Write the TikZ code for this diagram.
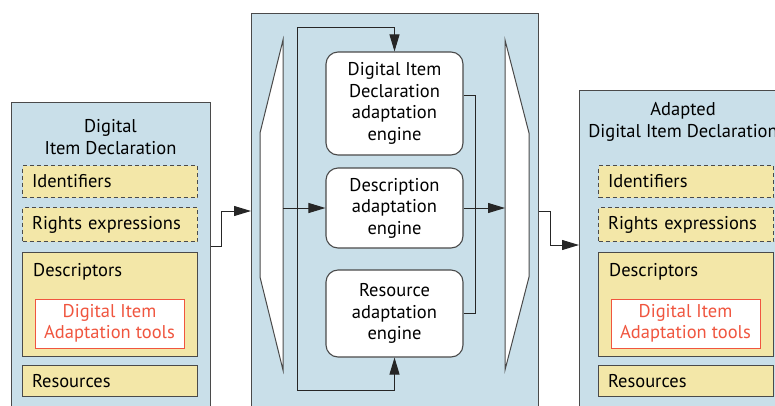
\documentclass[tikz,border=0pt]{standalone}
\usepackage{fontspec}
\setmainfont{PT Sans}
\usetikzlibrary{arrows.meta}

\definecolor{panelblue}{HTML}{C9DFE9}
\definecolor{partyellow}{HTML}{F3E7A8}
\definecolor{toolred}{HTML}{F0553F}
\definecolor{edgegray}{HTML}{4A4A4A}

\begin{document}
\begin{tikzpicture}[x=1pt, y=-1pt, font=\fontsize{18.5}{21.5}\selectfont,
        panel/.style={draw=edgegray, fill=panelblue, line width=1.1pt, inner sep=0pt, anchor=north west},
        part/.style={draw=edgegray, fill=partyellow, line width=1pt, minimum width=175pt, minimum height=32pt,
                     text width=156pt, inner xsep=9.5pt, inner ysep=0pt, align=left, anchor=north west},
        optional/.style={part, dash pattern=on 4pt off 3pt},
        tools/.style={draw=toolred, fill=white, text=toolred, line width=1pt, minimum width=149pt,
                      minimum height=49pt, inner sep=0pt, align=center},
        engine/.style={draw=edgegray, fill=white, line width=1.1pt, rounded corners=12pt,
                       minimum width=137pt, inner sep=0pt, align=center},
        splitter/.style={draw=edgegray, fill=white, line width=1pt},
        flow/.style={draw=black!85, line width=1pt},
        arr/.style={flow, -{Triangle[length=17pt,width=10pt]}}]

        \useasboundingbox (0,0) rectangle (775,405);
        \clip (0,0) rectangle (775,405);

        % three panels, the outer two run off the page
        \node[panel, minimum width=199pt, minimum height=330pt] (didpanel) at (11,102) {};
        \node[panel, minimum width=287pt, minimum height=420pt] (enginepanel) at (251,13) {};
        \node[panel, minimum width=199pt, minimum height=340pt] (adaptedpanel) at (579,90) {};

        \node[align=center] (didtitle) at (110.5,137) {Digital\\Item Declaration};
        \node[align=center] (adaptedtitle) at (683,122) {Adapted\\Digital Item Declaration};

        % parts of the declaration, same on both sides
        \foreach \dx/\p in {0/l, 576/r} {
            \node[optional] (\p ids) at (22+\dx,165) {Identifiers};
            \node[optional, minimum height=34pt] (\p rights) at (22+\dx,207) {Rights expressions};
            \node[part, minimum height=104pt] (\p desc) at (22+\dx,252) {};
            \node[anchor=base west, inner sep=0pt] (\p desclabel) at (33+\dx,276) {Descriptors};
            \node[tools] (\p tools) at (109.5+\dx,323.5) {Digital Item\\Adaptation tools};
            \node[part, minimum height=31pt] (\p res) at (22+\dx,365) {Resources};
        }

        % split and merge
        \draw[splitter] (283,40) -- (260,133) -- (260,277) -- (283,370) -- cycle;
        \draw[splitter] (505,40) -- (529,133) -- (529,277) -- (505,370) -- cycle;
        \coordinate (splitout) at (283,208);
        \coordinate (mergein) at (505,208);

        \node[engine, minimum height=103pt] (didengine) at (394.5,103.5) {Digital Item\\Declaration\\adaptation\\engine};
        \node[engine, minimum height=80pt] (descengine) at (394.5,208) {Description\\adaptation\\engine};
        \node[engine, minimum height=87pt] (resengine) at (394.5,313.5) {Resource\\adaptation\\engine};

        \draw[arr] (didpanel.east |- 0,246) -- (221,246) -- (221,211) -- (enginepanel.west |- 0,211);
        \draw[arr] (splitout) -- (descengine.west);
        \draw[flow] (297,27) -- (297,390);
        \draw[arr] (297,27) -- (didengine.north |- 0,27) -- (didengine.north);
        \draw[arr] (297,390) -- (resengine.south |- 0,390) -- (resengine.south);
        \draw[flow] (didengine.east |- 0,95) -- (475,95) -- (475,313.5) -- (resengine.east);
        \draw[arr] (descengine.east) -- (mergein);
        \draw[arr] (enginepanel.east |- 0,211) -- (550,211) -- (550,245) -- (adaptedpanel.west |- 0,245);
    \end{tikzpicture}
\end{document}
